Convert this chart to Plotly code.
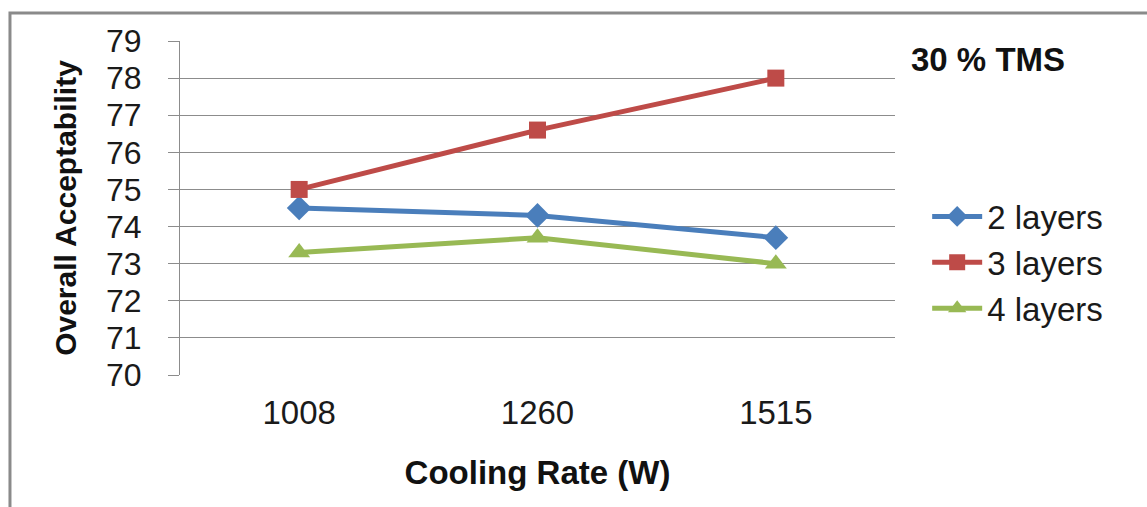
import plotly.graph_objects as go

categories = ["1008", "1260", "1515"]
two_layers = [74.5, 74.3, 73.7]
three_layers = [75.0, 76.6, 78.0]
four_layers = [73.3, 73.7, 73.0]
y_ticks = [70, 71, 72, 73, 74, 75, 76, 77, 78, 79]

series = [
    ("2 layers", two_layers, "#4a7ebb", "diamond", 19),
    ("3 layers", three_layers, "#be4b48", "square", 17),
    ("4 layers", four_layers, "#98b954", "triangle-up", 19),
]

fig = go.Figure()
for i, (name, vals, color, sym, size) in enumerate(series):
    fig.add_trace(go.Scatter(
        x=categories, y=vals, name=name, mode="lines+markers",
        line=dict(color=color, width=5),
        marker=dict(symbol=sym, size=size, color=color),
        legendgroup=f"g{i}",
    ))

font_family = "Liberation Sans, Arial, sans-serif"

fig.update_layout(
    width=1147, height=507,
    margin=dict(l=180, r=252, t=41, b=132),
    paper_bgcolor="white", plot_bgcolor="white",
    font=dict(family=font_family, size=32, color="#1a1a1a"),
    xaxis=dict(
        type="category", range=[-0.5, 2.5],
        showgrid=False, showline=False, ticks="",
        tickfont=dict(size=33, color="#1a1a1a"),
        ticklabelstandoff=15,
        title=dict(text="<b>Cooling Rate (W)</b>", font=dict(size=33, color="#111"), standoff=30),
    ),
    yaxis=dict(
        range=[70, 79], tickvals=y_ticks,
        showgrid=True, gridcolor="#8c8c8c", gridwidth=1,
        showline=True, linecolor="#8c8c8c", linewidth=1,
        ticks="outside", ticklen=11, tickcolor="#8c8c8c",
        tickfont=dict(size=32, color="#1a1a1a"),
        ticklabelstandoff=20,
        zeroline=False,
        title=dict(text="<b>Overall Acceptability</b>", font=dict(size=30, color="#111"), standoff=20),
    ),
    legend=dict(
        x=1.045, y=0.337, xanchor="left", yanchor="middle",
        font=dict(size=33, color="#1a1a1a"),
        tracegroupgap=0, itemwidth=50,
        bgcolor="rgba(0,0,0,0)",
    ),
    annotations=[dict(
        text="<b>30 % TMS</b>", xref="paper", yref="paper",
        x=1.02, y=0.945, xanchor="left", yanchor="middle", showarrow=False,
        font=dict(size=33, color="#111"),
    )],
    shapes=[dict(
        type="rect", xref="paper", yref="paper",
        x0=-0.2378, y0=-0.5, x1=1.5, y1=1.0838,
        line=dict(color="#8a8a8a", width=3), fillcolor="rgba(0,0,0,0)", layer="below",
    )],
)

fig.write_html("out.html")
